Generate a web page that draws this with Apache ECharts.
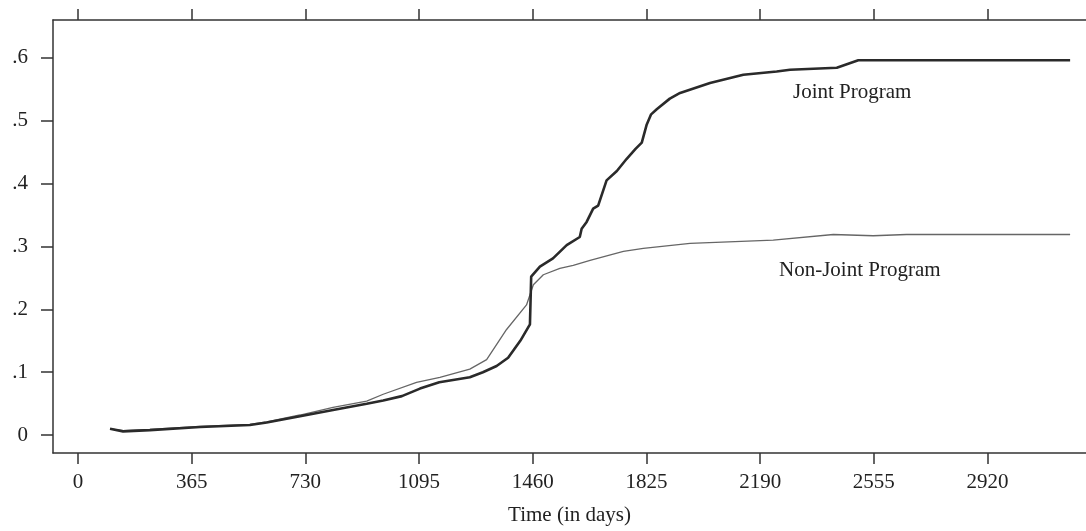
<!DOCTYPE html>
<html>
<head>
<meta charset="utf-8">
<script src="https://cdn.jsdelivr.net/npm/echarts@6/dist/echarts.min.js"></script>
<style>html,body{margin:0;padding:0;background:#fff}#c{width:1086px;height:531px}</style>
</head>
<body>
<div id="c"></div>
<script>
// Tick labels
const xTicks = [0, 365, 730, 1095, 1460, 1825, 2190, 2555, 2920];
const yTicks = [0, 0.1, 0.2, 0.3, 0.4, 0.5, 0.6];

// Joint Program (days, cumulative proportion)
const jointDays = [103,145,231,392,552,606,713,819,927,980,1040,1098,1160,1258,1300,1344,1381,1420,1451,1454,1455,1483,1525,1569,1611,1617,1633,1654,1670,1697,1730,1761,1790,1810,1826,1840,1858,1900,1933,2029,2136,2243,2286,2436,2505,3185];
const jointVals = [0.010,0.006,0.008,0.013,0.016,0.020,0.030,0.040,0.050,0.055,0.062,0.074,0.084,0.092,0.100,0.110,0.123,0.150,0.176,0.176,0.252,0.268,0.281,0.302,0.315,0.328,0.339,0.360,0.365,0.405,0.420,0.439,0.455,0.465,0.494,0.510,0.518,0.535,0.544,0.560,0.573,0.578,0.581,0.584,0.596,0.596];

// Non-Joint Program
const nonDays = [103,145,231,392,552,606,713,819,927,980,1087,1162,1258,1312,1376,1440,1462,1494,1547,1590,1644,1751,1815,1965,2232,2425,2553,2660,3185];
const nonVals = [0.010,0.007,0.009,0.014,0.017,0.021,0.032,0.044,0.054,0.065,0.084,0.092,0.105,0.120,0.168,0.207,0.239,0.255,0.265,0.270,0.278,0.292,0.297,0.305,0.310,0.319,0.317,0.319,0.319];

const FONT = 'Liberation Serif';
const AX = '#333';

const chart = echarts.init(document.getElementById('c'), null, {renderer: 'canvas'});
const zip = (a, b) => a.map((d, i) => [d, b[i]]);

chart.setOption({
  animation: false,
  backgroundColor: '#fff',
  grid: {left: 53, right: 0, top: 20, bottom: 75, containLabel: false},
  xAxis: [{
    type: 'value', position: 'bottom', min: -80, max: 3236,
    axisLine: {show: true, onZero: false, lineStyle: {color: AX, width: 1.5}},
    axisTick: {show: true, length: 11, lineStyle: {color: AX, width: 1.5}, customValues: xTicks},
    axisLabel: {show: true, customValues: xTicks, margin: 19, color: '#222', fontFamily: FONT, fontSize: 21,
      formatter: v => String(v)},
    splitLine: {show: false},
    name: 'Time (in days)', nameLocation: 'middle', nameGap: 52,
    nameTextStyle: {color: '#222', fontFamily: FONT, fontSize: 21}
  }, {
    type: 'value', position: 'top', min: -80, max: 3236,
    axisLine: {show: true, onZero: false, lineStyle: {color: AX, width: 1.5}},
    axisTick: {show: true, length: 11, lineStyle: {color: AX, width: 1.5}, customValues: xTicks},
    axisLabel: {show: false, customValues: xTicks},
    splitLine: {show: false}
  }],
  yAxis: [{
    type: 'value', min: -0.0284, max: 0.66,
    axisLine: {show: true, onZero: false, lineStyle: {color: AX, width: 1.5}},
    axisTick: {show: true, length: 12, lineStyle: {color: AX, width: 1.5}, customValues: yTicks},
    axisLabel: {show: true, customValues: yTicks, margin: 25, color: '#222', fontFamily: FONT, fontSize: 21,
      formatter: v => v === 0 ? '0' : ('.' + Math.round(v * 10))},
    splitLine: {show: false}
  }],
  graphic: [
    {type: 'text', left: 793, top: 82, style: {text: 'Joint Program', fill: '#222', font: '21px "Liberation Serif"'}},
    {type: 'text', left: 779, top: 260, style: {text: 'Non-Joint Program', fill: '#222', font: '21px "Liberation Serif"'}}
  ],
  series: [{
    type: 'line', name: 'Non-Joint Program', data: zip(nonDays, nonVals), showSymbol: false,
    lineStyle: {color: '#666', width: 1.3}, z: 2
  }, {
    type: 'line', name: 'Joint Program', data: zip(jointDays, jointVals), showSymbol: false,
    lineStyle: {color: '#2a2a2a', width: 2.6}, z: 3
  }]
});
</script>
</body>
</html>
